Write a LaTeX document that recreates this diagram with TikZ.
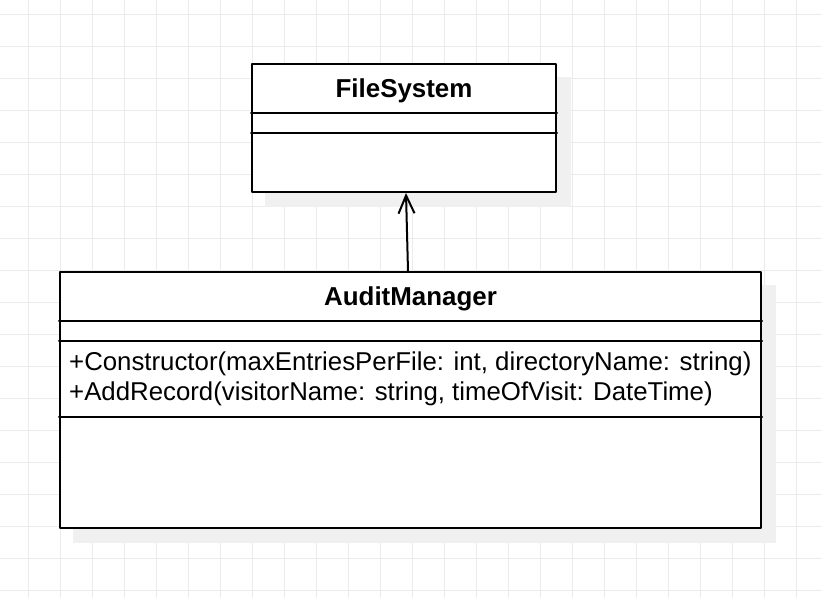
\documentclass[tikz,border=0pt]{standalone}
\usepackage{fontspec}
\setmainfont{Liberation Sans}
\usetikzlibrary{arrows.meta,backgrounds}
\begin{document}
\begin{tikzpicture}[x=1pt,y=-1pt,line join=round,line cap=round,>={Straight Barb[length=18pt,width=16pt]}]
	\tikzset{umlbox/.style={draw=black,fill=white,line width=2pt,inner sep=0pt,rectangle},
		umlline/.style={line width=2pt},
		umlshadow/.style={fill=black!6},
		gridline/.style={draw=black!8,line width=1pt},
		titletext/.style={font=\fontsize{25.9}{30}\selectfont\bfseries,inner sep=0pt,anchor=base},
		methodtext/.style={font=\fontsize{25.8}{30}\selectfont,inner sep=0pt,anchor=base west}}
	\useasboundingbox (0,0) rectangle (822,598);
	\node[umlbox,minimum width=304pt,minimum height=128pt] (fs) at (404,128) {};
	\node[umlbox,minimum width=701pt,minimum height=256pt] (am) at (410.5,400) {};
	\begin{scope}[on background layer]
		\fill[white] (0,0) rectangle (822,598);
		\foreach \x in {28,60,...,822}
			\draw[gridline] (\x,0) -- (\x,598);
		\foreach \y in {14,46,...,598}
			\draw[gridline] (0,\y) -- (822,\y);
		\foreach \n in {fs,am}
			\fill[umlshadow] ([shift={(14pt,-14pt)}]\n.north west) rectangle ([shift={(14pt,-14pt)}]\n.south east);
	\end{scope}
	\draw[umlline] ([yshift=-50pt]fs.north west) -- ([yshift=-50pt]fs.north east);
	\draw[umlline] ([yshift=-70pt]fs.north west) -- ([yshift=-70pt]fs.north east);
	\draw[umlline] ([yshift=-50pt]am.north west) -- ([yshift=-50pt]am.north east);
	\draw[umlline] ([yshift=-70pt]am.north west) -- ([yshift=-70pt]am.north east);
	\draw[umlline] ([yshift=-146pt]am.north west) -- ([yshift=-146pt]am.north east);
	\node[titletext] (fsname) at ([yshift=-34pt]fs.north) {FileSystem};
	\node[titletext] (amname) at ([yshift=-34pt]am.north) {AuditManager};
	\node[methodtext] (amctor) at ([shift={(10pt,-99pt)}]am.north west) {+Constructor(maxEntriesPerFile: int, directoryName: string)};
	\node[methodtext] (amadd) at ([shift={(10pt,-129pt)}]am.north west) {+AddRecord(visitorName: string, timeOfVisit: DateTime)};
	\draw[->,line width=2pt] ([xshift=-2.5pt]am.north) -- ([xshift=2pt]fs.south);
\end{tikzpicture}
\end{document}
